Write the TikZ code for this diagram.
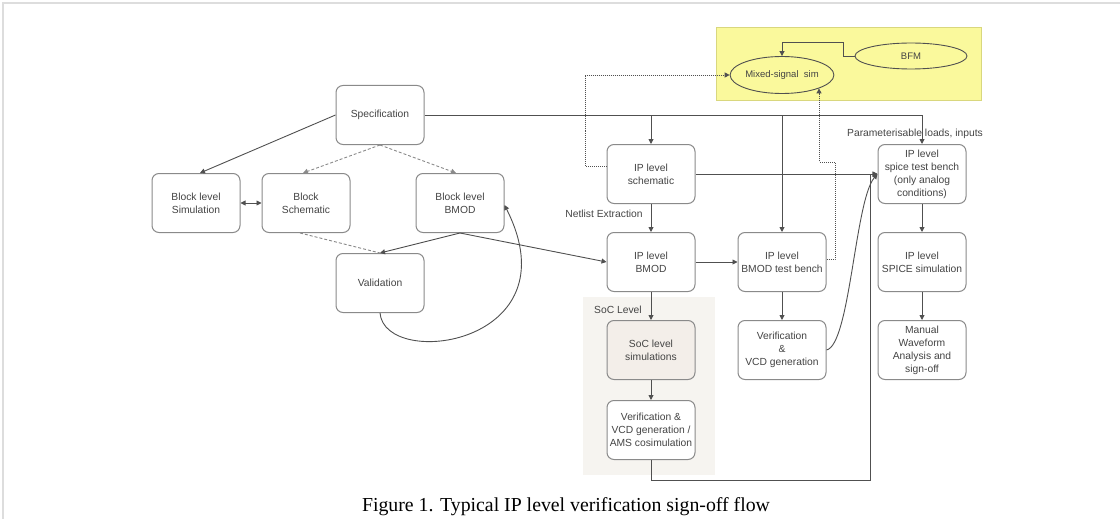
\documentclass[tikz,border=0pt]{standalone}
\usepackage{fontspec}
\setmainfont{Liberation Serif}
\newfontfamily\boxfont{Liberation Sans}
\usetikzlibrary{arrows.meta,shapes.geometric}
\definecolor{ln}{HTML}{505050}
\definecolor{bx}{HTML}{8A8A8A}
\definecolor{tx}{HTML}{444444}
\definecolor{ylw}{HTML}{FAF99C}
\definecolor{ylwb}{HTML}{D9D77E}
\definecolor{socbg}{HTML}{F6F4F0}
\definecolor{socbox}{HTML}{F3EEE9}
\definecolor{frm}{HTML}{DDDDDD}
\tikzset{
  flowbox/.style={draw=bx, line width=1pt, rounded corners=7pt, fill=white,
    minimum width=88pt, minimum height=59pt, inner sep=0.5pt, align=center,
    text=tx, font=\boxfont\fontsize{10.3}{13}\selectfont},
  oval/.style={ellipse, draw=ln, line width=0.9pt, fill=ylw, inner sep=0pt,
    text=tx, font=\boxfont\fontsize{9.5}{11}\selectfont},
  tip/.style={-{Triangle[length=5pt,width=5pt]}},
  arr/.style={draw=ln, line width=0.9pt, tip},
  dashedline/.style={draw=bx, line width=0.9pt, dash pattern=on 3pt off 2pt},
  dottedline/.style={draw=ln, line width=0.9pt, dash pattern=on 1pt off 1pt},
  lbl/.style={text=tx, font=\boxfont\fontsize{10.3}{11}\selectfont, inner sep=0pt},
}
\begin{document}
\begin{tikzpicture}[x=1pt,y=-1pt]
\useasboundingbox (0,0) rectangle (1120,519);
% outer frame
\draw[frm, line width=1.5pt] (3,519) -- (3,3) -- (1120,3);
% backgrounds
\fill[ylw, draw=ylwb, line width=0.8pt] (716,27) rectangle (981,100);
\fill[socbg] (583,297) rectangle (715,475);
% nodes
\node[flowbox] (spec) at (380,115) {Specification};
\node[flowbox] (bsim) at (196,203) {Block level\\Simulation};
\node[flowbox] (bsch) at (306,203) {Block\\Schematic};
\node[flowbox] (bbmod) at (460,203) {Block level\\BMOD};
\node[flowbox] (val) at (380,283) {Validation};
\node[flowbox] (ipsch) at (651,174) {IP level\\schematic};
\node[flowbox] (ipbmod) at (651,262) {IP level\\BMOD};
\node[flowbox] (iptb) at (782,262) {IP level\\BMOD test bench};
\node[flowbox] (ver) at (782,350) {Verification\\\&\\VCD generation};
\node[flowbox, fill=socbox] (soc) at (651,350) {SoC level\\simulations};
\node[flowbox] (ams) at (651,430) {Verification \&\\VCD generation /\\AMS cosimulation};
\node[flowbox] (spice) at (922,174) {IP level\\spice test bench\\(only analog\\conditions)};
\node[flowbox] (spsim) at (922,262) {IP level\\SPICE simulation};
\node[flowbox] (man) at (922,350) {Manual\\Waveform\\Analysis and\\sign-off};
\node[oval, minimum width=87pt, minimum height=37pt] (mixed) at (782,75) {Mixed-signal\ \ sim};
\node[oval, minimum width=112pt, minimum height=26pt] (bfm) at (911,56) {BFM};
% labels
\node[lbl] (netl) at (604,214) {Netlist Extraction};
\node[lbl] (param) at (915,134) {Parameterisable loads, inputs};
\node[lbl] (soclbl) at (618,310) {SoC Level};
\node[font=\fontsize{19.8}{22}\selectfont, text=black, inner sep=0pt, anchor=base] (cap) at (566,511) {Figure 1. Typical IP level verification sign-off flow};
% coordinates
\coordinate (bend1) at (843,42);
\coordinate (dl1) at (585,166);
\coordinate (dr1) at (835,162);
\coordinate (bot) at (870,480);
% left part
\draw[arr] (spec.west) -- ([xshift=4pt]bsim.north);
\draw[dashedline, tip] (spec.south) -- ([xshift=-3pt]bsch.north);
\draw[dashedline, tip] (spec.south) -- ([xshift=-4pt]bbmod.north);
\draw[draw=ln, line width=0.9pt, {Triangle[length=5pt,width=5pt]}-{Triangle[length=5pt,width=5pt]}] (bsim.east) -- (bsch.west);
\draw[dashedline] ([xshift=-6pt]bsch.south) -- (val.north);
\draw[arr] (bbmod.south) -- (val.north);
\draw[arr] (bbmod.south) -- (ipbmod.west);
\draw[arr] (val.south) .. controls (385,370) and (575,345) .. ([yshift=-2pt]bbmod.east);
% spec line to IP column
\draw[arr] (spec.east) -| (spice.north);
\draw[arr] (spec.east -| ipsch.north) -- (ipsch.north);
\draw[arr] (spec.east -| iptb.north) -- (iptb.north);
% IP flow
\draw[arr] (ipsch.south) -- (ipbmod.north);
\draw[arr] (ipsch.east) -- (spice.west);
\draw[arr] (ipbmod.east) -- (iptb.west);
\draw[arr] (ipbmod.south) -- (soc.north);
\draw[arr] (soc.south) -- (ams.north);
\draw[arr] (iptb.south) -- (ver.north);
\draw[arr] (ver.east) .. controls (850,345) and (855,200) .. (spice.west);
\draw[arr] (ams.south) |- (bot) |- (spice.west);
\draw[arr] (spice.south) -- (spsim.north);
\draw[arr] (spsim.south) -- (man.north);
% mixed-signal
\draw[arr] (bfm.west) -| (bend1) -| (mixed.north);
\draw[dottedline, tip] ([yshift=8pt]ipsch.west) -- (dl1) |- (mixed.west);
\draw[dottedline, tip] ([yshift=3pt]iptb.east) -| (dr1) -| (mixed.south east);
\end{tikzpicture}
\end{document}
